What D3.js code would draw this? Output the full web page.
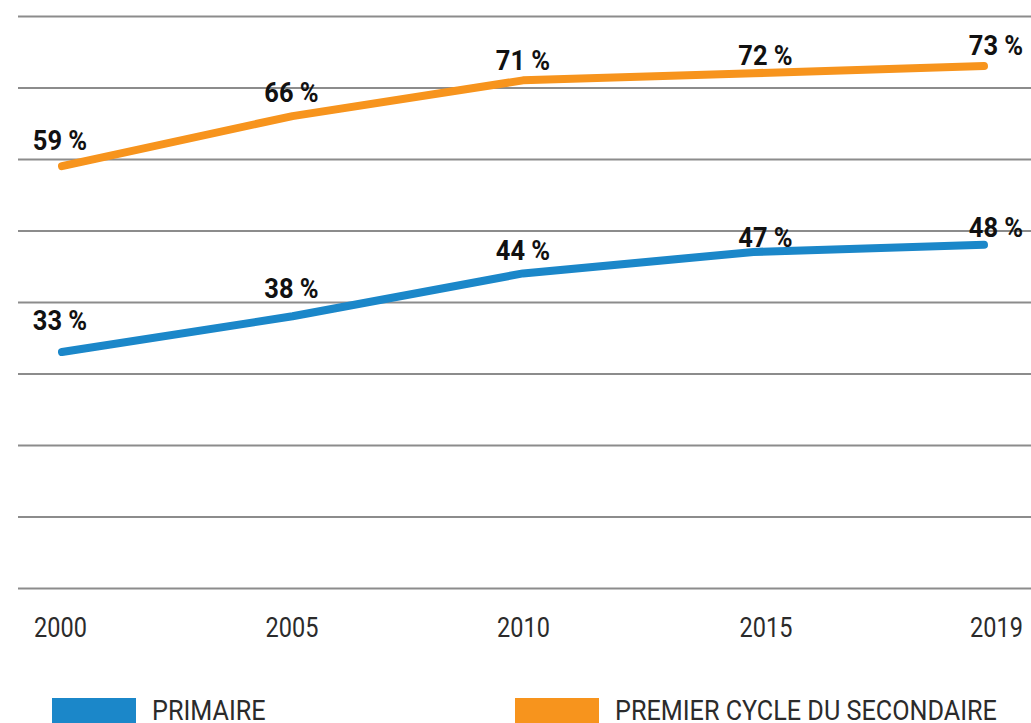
<!DOCTYPE html>
<html>
<head>
<meta charset="utf-8">
<script src="https://cdn.jsdelivr.net/npm/d3@7"></script>
<style>
  body { margin: 0; background: #fff; }
  svg text { font-family: "Roboto", "DejaVu Sans Condensed", sans-serif; }
</style>
</head>
<body>
<svg id="chart" width="1031" height="723"></svg>
<script>
// data
var years = ["2000", "2005", "2010", "2015", "2019"];
var primaire = [33, 38, 44, 47, 48];
var secondaire = [59, 66, 71, 72, 73];
var yTicks = [0, 10, 20, 30, 40, 50, 60, 70, 80];
var seriesNames = ["PRIMAIRE", "PREMIER CYCLE DU SECONDAIRE"];

var colors = ["#1b87c9", "#f7941d"];
// the last two columns of text sit a little right of their points
var labelShift = [-2, -1, 0, 12, 12];
// how far each value label sits above its point
var labelLift = [[22, 18, 13, 5, 8], [16, 14, 10, 8, 11]];
// no condensed face installed, so squeeze the text sideways
var squeeze = 0.84;
var squeezeLegend = 0.9;
var squeezeBold = 0.91;

var svg = d3.select("#chart");

var x = d3.scalePoint().domain(years).range([62, 984]);
var y = d3.scaleLinear().domain([0, 80]).range([588, 16]);

// grid lines
svg.append("g")
    .selectAll("line")
    .data(yTicks)
    .enter().append("line")
    .attr("x1", 18)
    .attr("x2", 1031)
    .attr("y1", function(d) { return y(d) + 0.5; })
    .attr("y2", function(d) { return y(d) + 0.5; })
    .style("stroke", "#8c8c8c")
    .style("stroke-width", 1.8);

// x axis labels
var xAxis = d3.axisBottom(x).tickSize(0).tickPadding(0);
var gx = svg.append("g")
    .attr("transform", "translate(0,637)")
    .call(xAxis);
gx.select(".domain").remove();
gx.selectAll(".tick text")
    .attr("dy", null)
    .attr("y", 0)
    .attr("transform", function(d, i) { return "translate(" + labelShift[i] + ",0) scale(" + squeeze + ",1)"; })
    .style("font-size", "28px")
    .style("fill", "#2b2b2b");

var line = d3.line()
    .x(function(d, i) { return x(years[i]); })
    .y(function(d) { return y(d); });

var series = [primaire, secondaire];

series.forEach(function(vals, s) {
    svg.append("path")
        .datum(vals)
        .attr("d", line)
        .style("fill", "none")
        .style("stroke", colors[s])
        .style("stroke-width", 8)
        .style("stroke-linecap", "round")
        .style("stroke-linejoin", "round");

    svg.append("g")
        .selectAll("text")
        .data(vals)
        .enter().append("text")
        .attr("transform", function(d, i) {
            return "translate(" + (x(years[i]) + labelShift[i]) + "," + (y(d) - labelLift[s][i]) + ") scale(" + squeezeBold + ",1)";
        })
        .attr("text-anchor", "middle")
        .style("font-size", "28px")
        .style("font-weight", "bold")
        .style("fill", "#111")
        .text(function(d) { return d + " %"; });
});

// legend
var legendX = [52, 515];
var legend = svg.append("g")
    .selectAll("g")
    .data(seriesNames)
    .enter().append("g")
    .attr("transform", function(d, i) { return "translate(" + legendX[i] + ",698)"; });

legend.append("rect")
    .attr("width", 84)
    .attr("height", 30)
    .style("fill", function(d, i) { return colors[i]; });

legend.append("text")
    .attr("transform", "translate(100,22) scale(" + squeezeLegend + ",1)")
    .style("font-size", "28px")
    .style("fill", "#2b2b2b")
    .text(function(d) { return d; });
</script>
</body>
</html>
